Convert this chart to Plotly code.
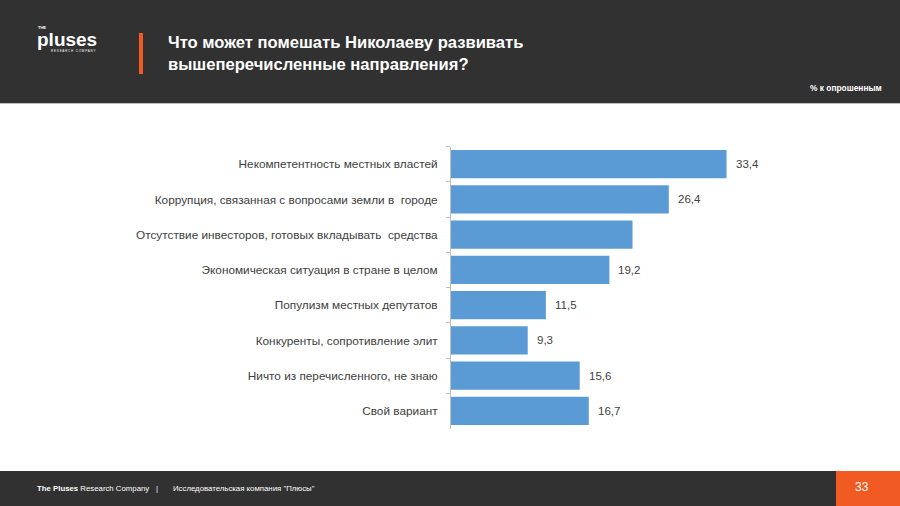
import plotly.graph_objects as go

categories = [
    "Некомпетентность местных властей",
    "Коррупция, связанная с вопросами земли в  городе",
    "Отсутствие инвесторов, готовых вкладывать  средства",
    "Экономическая ситуация в стране в целом",
    "Популизм местных депутатов",
    "Конкуренты, сопротивление элит",
    "Ничто из перечисленного, не знаю",
    "Свой вариант",
]
values = [33.4, 26.4, 22.0, 19.2, 11.5, 9.3, 15.6, 16.7]
value_labels = ["33,4", "26,4", "", "19,2", "11,5", "9,3", "15,6", "16,7"]

W, H = 900, 506
DARK = "#313131"
ORANGE = "#f15a22"
BAR = "#5b9bd5"
TXT = "#404040"
FONT = "Liberation Sans, Arial, sans-serif"


def px(x):
    return x / W


def py(y):
    return 1 - y / H


fig = go.Figure()
fig.add_trace(go.Bar(
    x=values, y=categories, orientation="h",
    marker=dict(color=BAR, line=dict(width=0)),
    hoverinfo="skip",
))

annotations = []
for v, c, t in zip(values, categories, value_labels):
    if t:
        annotations.append(dict(x=v, y=c, xref="x", yref="y", text=t,
                                showarrow=False, xanchor="left", xshift=7,
                                font=dict(size=11.5, color=TXT, family=FONT)))

shapes = [
    dict(type="rect", xref="paper", yref="paper", x0=0, x1=1, y0=py(103), y1=1,
         fillcolor=DARK, line=dict(width=0), layer="below"),
    dict(type="rect", xref="paper", yref="paper", x0=0, x1=1, y0=py(104), y1=py(103),
         fillcolor="#bdbdbd", line=dict(width=0), layer="below"),
    dict(type="rect", xref="paper", yref="paper", x0=0, x1=1, y0=0, y1=py(471),
         fillcolor=DARK, line=dict(width=0), layer="below"),
    dict(type="rect", xref="paper", yref="paper", x0=px(836), x1=1, y0=0, y1=py(471),
         fillcolor=ORANGE, line=dict(width=0), layer="below"),
    dict(type="rect", xref="paper", yref="paper", x0=px(139), x1=px(143), y0=py(74), y1=py(33),
         fillcolor=ORANGE, line=dict(width=0), layer="below"),
]

W_ = "white"
annotations += [
    dict(x=px(166), y=py(53), xref="paper", yref="paper", xanchor="left", yanchor="middle",
         align="left", showarrow=False,
         text="<b>Что может помешать Николаеву развивать<br>вышеперечисленные направления?</b>",
         font=dict(size=16.6, color=W_, family=FONT)),
    dict(x=px(884), y=py(88), xref="paper", yref="paper", xanchor="right", yanchor="middle",
         showarrow=False, text="<b>% к опрошенным</b>",
         font=dict(size=8.4, color=W_, family=FONT)),
    dict(x=px(36), y=py(39), xref="paper", yref="paper", xanchor="left", yanchor="middle",
         showarrow=False, text="<b>pluses</b>", borderpad=0,
         font=dict(size=19, color=W_, family=FONT)),
    dict(x=px(37), y=py(27.5), xref="paper", yref="paper", xanchor="left", yanchor="middle",
         showarrow=False, text="<b>THE</b>", borderpad=0,
         font=dict(size=4, color=W_, family=FONT)),
    dict(x=px(50), y=py(51), xref="paper", yref="paper", xanchor="left", yanchor="middle",
         showarrow=False, text="R E S E A R C H   C O M P A N Y", borderpad=0,
         font=dict(size=3, color=W_, family=FONT)),
    dict(x=px(35), y=py(488), xref="paper", yref="paper", xanchor="left", yanchor="middle",
         showarrow=False, text="<b>The Pluses</b> Research Company",
         font=dict(size=7.8, color=W_, family=FONT)),
    dict(x=px(157), y=py(488), xref="paper", yref="paper", xanchor="center", yanchor="middle",
         showarrow=False, text="|",
         font=dict(size=7.8, color=W_, family=FONT)),
    dict(x=px(171), y=py(488), xref="paper", yref="paper", xanchor="left", yanchor="middle",
         showarrow=False, text="Исследовательская компания \"Плюсы\"",
         font=dict(size=7.8, color=W_, family=FONT)),
    dict(x=px(862), y=py(487), xref="paper", yref="paper", xanchor="center", yanchor="middle",
         showarrow=False, text="33",
         font=dict(size=12, color=W_, family=FONT)),
]

fig.update_layout(
    width=W, height=H,
    margin=dict(l=0, r=0, t=0, b=0),
    paper_bgcolor="white", plot_bgcolor="white",
    showlegend=False,
    bargap=0.2,
    shapes=shapes,
    annotations=annotations,
    font=dict(family=FONT, color=TXT),
    xaxis=dict(domain=[px(451), px(781)], range=[0, 40], visible=False,
               showgrid=False, zeroline=False, automargin=False, fixedrange=True),
    yaxis=dict(domain=[py(428.5), py(146.5)], autorange="reversed", type="category",
               showline=True, linecolor="#bfbfbf", linewidth=1,
               ticks="outside", tickson="boundaries", ticklen=4, tickcolor="#bfbfbf",
               ticklabelstandoff=10,
               tickfont=dict(size=11.8, color=TXT, family=FONT),
               showgrid=False, zeroline=False, automargin=False, fixedrange=True),
)

fig.write_html("out.html", config={"displayModeBar": False},
               post_script="document.body.style.margin='0';document.body.style.overflow='hidden';")
